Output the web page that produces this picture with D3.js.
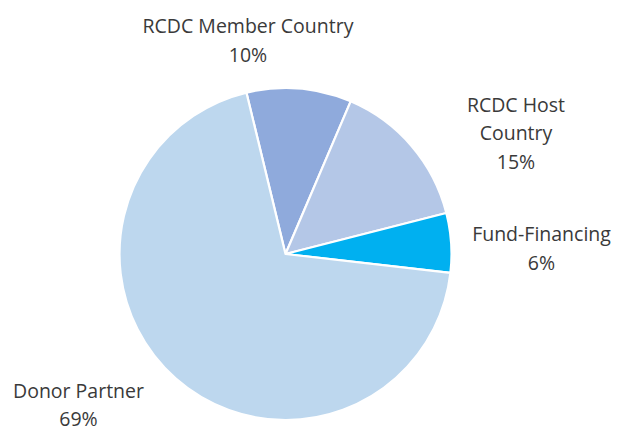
<!DOCTYPE html>
<html>
<head>
<meta charset="utf-8">
<script src="https://cdn.jsdelivr.net/npm/d3@7"></script>
<style>
  html, body { margin: 0; padding: 0; background: #fff; }
  svg { display: block; }
  text { font-family: "Open Sans", "Noto Sans", sans-serif; fill: #3a3a3a; }
</style>
</head>
<body>
<svg id="chart" width="618" height="431"></svg>
<script>
// Data
const categories = ["RCDC Member Country", "RCDC Host Country", "Fund-Financing", "Donor Partner"];
const values = [10.2, 14.6, 5.8, 69.4];
const colors = ["#8FAADC", "#B4C7E7", "#00B0F0", "#BDD7EE"];
const labelLines = [["RCDC Member Country"], ["RCDC Host", "Country"], ["Fund-Financing"], ["Donor Partner"]];
const labelAnchors = [[248, 33], [516, 111.7], [541.5, 241], [78.5, 398]];

const W = 618, H = 431;
const cx = 285.5, cy = 254, R = 166;
const startDeg = -13.6;
const lineH = 28.6;

const svg = d3.select("#chart");
const g = svg.append("g").attr("transform", `translate(${cx},${cy})`);

const start = startDeg * Math.PI / 180;
const pie = d3.pie().sort(null).value(d => d.v).startAngle(start).endAngle(start + 2 * Math.PI);
const arc = d3.arc().innerRadius(0).outerRadius(R);

const data = categories.map((c, i) => ({ c, v: values[i], i }));
const total = d3.sum(values);

g.selectAll("path.slice")
  .data(pie(data))
  .join("path")
  .attr("class", "slice")
  .attr("d", arc)
  .attr("fill", d => colors[d.data.i])
  .attr("stroke", "#fff")
  .attr("stroke-width", 2.2)
  .attr("stroke-linejoin", "round");

const labels = svg.append("g");
data.forEach((d, i) => {
  const lines = labelLines[i].concat([Math.round(d.v / total * 100) + "%"]);
  const [x, y] = labelAnchors[i];
  const t = labels.append("text")
    .attr("text-anchor", "middle")
    .attr("font-size", 19.5);
  lines.forEach((ln, k) => {
    const lh = (i === 3) ? 27.5 : lineH;
    t.append("tspan").attr("x", x).attr("y", y + k * lh).text(ln);
  });
});
</script>
</body>
</html>
